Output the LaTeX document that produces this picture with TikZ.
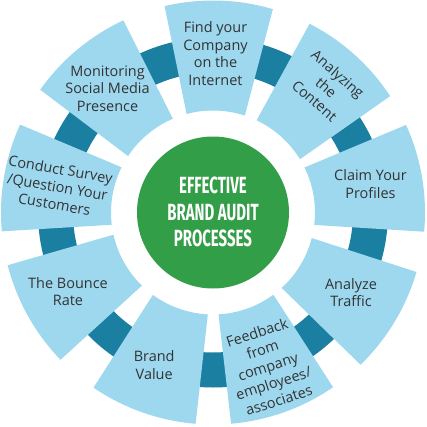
\documentclass[tikz,border=0pt]{standalone}
\usepackage{fontspec}
\setmainfont{Open Sans}
\newfontfamily\condfont[FakeStretch=0.64]{Fira Sans}
\definecolor{segblue}{RGB}{157,216,239}
\definecolor{ringteal}{RGB}{26,127,160}
\definecolor{hubgreen}{RGB}{51,158,72}
\definecolor{txtgray}{RGB}{51,51,51}
\begin{document}
\begin{tikzpicture}[x=1bp,y=1bp,
  lbl/.style={text=txtgray, font=\fontsize{14.5}{17.8}\selectfont, align=center, inner sep=0pt},
  hubtext/.style={text=white, font=\condfont\bfseries\fontsize{23.5}{26.5}\selectfont, align=center, inner sep=0pt}]
\useasboundingbox (-213,-214.5) rectangle (214,212.5);
\fill[white] (-213,-214.5) rectangle (214,212.5);
% dark ring seen through the gaps
\fill[ringteal, even odd rule] (0,0) circle[radius=175] (0,0) circle[radius=140];
% light segments
\foreach \c in {88.4,48.1,9.6,-31.1,-70.3,-109.5,-150.8,170.3,129.8}{
  \fill[segblue] ({\c+14.8}:212) arc[start angle={\c+14.8}, end angle={\c-14.8}, radius=212]
    -- ({\c-16.6}:102) arc[start angle={\c-16.6}, end angle={\c+16.6}, radius=102] -- cycle;
}
% hub
\fill[hubgreen] (0,0) circle[radius=76];
\node[hubtext] (hub) at (0,0.5) {EFFECTIVE\\BRAND AUDIT\\PROCESSES};
% labels
\node[lbl] (find) at (2.5,159) {Find your\\Company\\on the\\Internet};
\node[lbl, rotate=-41] (analyzing) at (113.3,125.2) {Analyzing\\the\\Content};
\node[lbl] (claim) at (157.5,28.3) {Claim Your\\Profiles};
\node[lbl] (traffic) at (138,-80) {Analyze\\Traffic};
\node[lbl, rotate=18] (feedback) at (55,-153.8) {Feedback\\from\\company\\employees/\\associates};
\node[lbl] (brand) at (-58.8,-152.5) {Brand\\Value};
\node[lbl] (bounce) at (-145,-79.2) {The Bounce\\Rate};
\node[lbl, rotate=-10] (survey) at (-155.5,25.8) {Conduct Survey\\/Question Your\\Customers};
\node[lbl] (monitor) at (-105.5,123.8) {Monitoring\\Social Media\\Presence};
\end{tikzpicture}
\end{document}
